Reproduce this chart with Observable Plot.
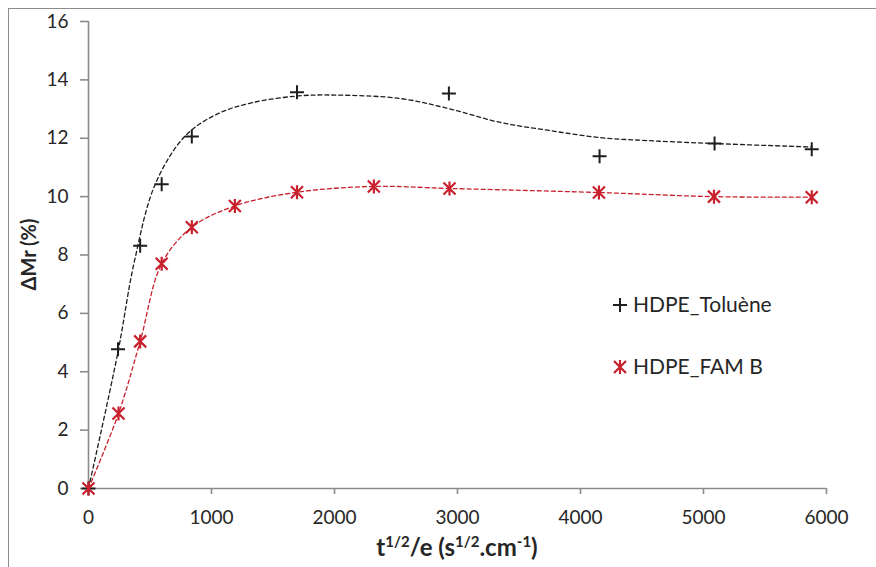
<!DOCTYPE html>
<html>
<head>
<meta charset="utf-8">
<script src="https://cdn.jsdelivr.net/npm/d3@7"></script>
<script src="https://cdn.jsdelivr.net/npm/@observablehq/plot@0.6"></script>
<style>
  html, body { margin: 0; padding: 0; background: #fff; }
  #wrap { position: relative; width: 876px; height: 567px; overflow: hidden; }
  #frame { position: absolute; left: 8px; top: 8px; width: 900px; height: 600px;
           border-left: 1.5px solid #8c8c8c; border-top: 1.5px solid #8c8c8c; box-sizing: border-box; }
  #chart { position: absolute; left: 0; top: 0; }
  svg g[aria-label$="tick label"] { fill: #262626; }
</style>
</head>
<body>
<div id="wrap"><div id="frame"></div><div id="chart"></div></div>
<script>
// Data
const seriesNames = ["HDPE_Toluène", "HDPE_FAM B"];
const tolueneX = [0, 240, 420, 595, 840, 1695, 2930, 4155, 5090, 5880];
const tolueneY = [0, 4.77, 8.32, 10.42, 12.06, 13.58, 13.53, 11.38, 11.82, 11.62];
const famX = [0, 244, 420, 595, 840, 1190, 1695, 2320, 2935, 4150, 5085, 5880];
const famY = [0, 2.57, 5.04, 7.70, 8.95, 9.68, 10.15, 10.35, 10.28, 10.14, 10.0, 9.98];
// Smooth trend curve for toluene
const trendX = [0, 236, 374, 545, 789, 1057, 1333, 1707, 2000, 2537, 2943, 3350, 3756, 4163, 4545, 5081, 5880];
const trendY = [0, 4.6, 7.8, 10.45, 12.09, 12.85, 13.22, 13.45, 13.48, 13.36, 13.0, 12.54, 12.26, 12.02, 11.92, 11.82, 11.7];
const xTicks = [0, 1000, 2000, 3000, 4000, 5000, 6000];
const yTicks = [0, 2, 4, 6, 8, 10, 12, 14, 16];

const toluene = tolueneX.map((x, i) => ({x, y: tolueneY[i]}));
const fam = famX.map((x, i) => ({x, y: famY[i]}));
const trend = trendX.map((x, i) => ({x, y: trendY[i]}));

const BLACK = "#1e1e1e";
const RED = "#c8202c";
const GRAY = "#8a8a8a";

const plusSym = {draw(ctx) { const r = 7; ctx.moveTo(-r, 0); ctx.lineTo(r, 0); ctx.moveTo(0, -r); ctx.lineTo(0, r); }};
const starSym = {draw(ctx) { const r = 7, d = 6; ctx.moveTo(0, -r); ctx.lineTo(0, r);
  ctx.moveTo(-d, -d); ctx.lineTo(d, d); ctx.moveTo(-d, d); ctx.lineTo(d, -d); }};

const chart = Plot.plot({
  width: 876, height: 567,
  marginLeft: 88, marginRight: 50, marginTop: 21, marginBottom: 79,
  style: {fontFamily: "Lato, sans-serif", fontSize: "19px", background: "transparent", overflow: "visible"},
  x: {domain: [0, 6000], label: null},
  y: {domain: [0, 16], label: null},
  marks: [
    Plot.ruleX([0], {y1: 0, y2: 16, stroke: GRAY, strokeWidth: 1.6}),
    Plot.ruleY([0], {x1: 0, x2: 6000, stroke: GRAY, strokeWidth: 1.6}),
    Plot.axisY(yTicks, {tickSize: 8, tickPadding: 12, stroke: GRAY, strokeWidth: 1.6, fontSize: 19, label: null, tickFormat: d3.format("d")}),
    Plot.axisX(xTicks, {tickSize: 6, tickPadding: 16, stroke: GRAY, strokeWidth: 1.6, fontSize: 19, label: null, tickFormat: d3.format("d")}),
    Plot.line(trend, {x: "x", y: "y", curve: "catmull-rom", stroke: BLACK, strokeWidth: 1.3, strokeDasharray: "4,3"}),
    Plot.line(fam, {x: "x", y: "y", curve: "catmull-rom", stroke: RED, strokeWidth: 1.3, strokeDasharray: "4,3"}),
    Plot.dot(toluene, {x: "x", y: "y", symbol: plusSym, fill: "none", stroke: BLACK, strokeWidth: 2}),
    Plot.dot(fam, {x: "x", y: "y", symbol: starSym, fill: "none", stroke: RED, strokeWidth: 2.2})
  ]
});
document.getElementById("chart").appendChild(chart);

const svg = d3.select(chart);
// Axis titles
const xt = svg.append("text").attr("x", (88 + 826) / 2).attr("y", 556)
  .attr("text-anchor", "middle").attr("font-family", "Lato, sans-serif").attr("font-weight", "bold")
  .attr("font-size", 24).attr("fill", "#262626");
xt.append("tspan").text("t");
xt.append("tspan").attr("font-size", 15).attr("dy", -9).text("1/2");
xt.append("tspan").attr("dy", 9).text("/e (s");
xt.append("tspan").attr("font-size", 15).attr("dy", -9).text("1/2");
xt.append("tspan").attr("dy", 9).text(".cm");
xt.append("tspan").attr("font-size", 15).attr("dy", -9).text("-1");
xt.append("tspan").attr("dy", 9).text(")");

svg.append("text").attr("transform", `translate(36,${(21 + 488) / 2}) rotate(-90)`)
  .attr("text-anchor", "middle").attr("font-family", "Lato, sans-serif").attr("font-weight", "bold")
  .attr("font-size", 20).attr("fill", "#262626").text("ΔMr (%)");

// Legend
const leg = svg.append("g").attr("font-family", "Lato, sans-serif").attr("font-size", 21)
  .attr("fill", "#262626").attr("text-anchor", "start");
const legendItems = [
  {name: seriesNames[0], sym: plusSym, color: BLACK, w: 2, y: 305},
  {name: seriesNames[1], sym: starSym, color: RED, w: 2.2, y: 367}
];
legendItems.forEach(it => {
  leg.append("path").attr("d", d3.symbol(it.sym)()).attr("transform", `translate(620,${it.y})`)
    .attr("fill", "none").attr("stroke", it.color).attr("stroke-width", it.w);
  leg.append("text").attr("x", 633).attr("y", it.y + 7).attr("text-anchor", "start").text(it.name);
});
</script>
</body>
</html>
